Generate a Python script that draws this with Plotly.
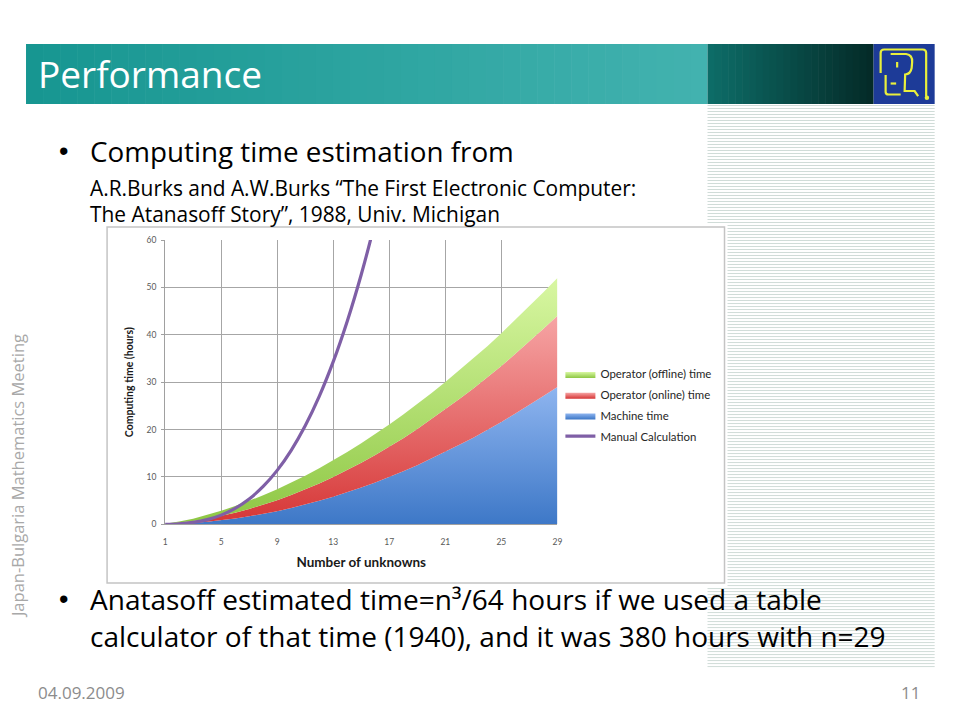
import plotly.graph_objects as go

# ---------------- data ----------------
n_unknowns = list(range(1, 30))
machine_time = [0.03, 0.14, 0.31, 0.55, 0.86, 1.24, 1.69, 2.21, 2.79, 3.45,
                4.17, 4.97, 5.83, 6.76, 7.76, 8.83, 9.97, 11.2, 12.5, 13.9,
                15.3, 16.8, 18.3, 19.9, 21.6, 23.4, 25.2, 27.1, 29.0]
online_time = [0.07, 0.21, 0.40, 0.63, 0.90, 1.21, 1.55, 1.91, 2.30, 2.73,
               3.18, 3.66, 4.16, 4.69, 5.23, 5.79, 6.38, 6.99, 7.62, 8.28,
               8.95, 9.65, 10.36, 11.09, 11.83, 12.60, 13.38, 14.19, 15.0]
offline_time = [0.05, 0.25, 0.5, 0.8, 1.1, 1.4, 1.7, 2.0, 2.3, 2.6,
                2.9, 3.2, 3.5, 3.8, 4.1, 4.4, 4.7, 5.0, 5.25, 5.5,
                5.8, 6.05, 6.35, 6.6, 6.9, 7.2, 7.45, 7.7, 8.0]
manual_calc = [0.02, 0.13, 0.42, 1.0, 1.95, 3.38, 5.36, 8.0, 11.39, 15.63,
               20.8, 27.0, 34.33, 42.88, 52.73, 64.0, 76.77, 91.13, 107.17, 125.0,
               144.7, 166.4, 190.1, 216.0, 244.1, 274.6, 307.5, 343.0, 381.1]
x_tick_vals = [1, 5, 9, 13, 17, 21, 25, 29]
y_tick_vals = [0, 10, 20, 30, 40, 50, 60]

W, H = 960, 720
FONT = "Open Sans"
CHART_FONT = "Lato"

# small correction for the way the page is photographed
SX, OX = 0.992, 2.0
SY, OY = 0.986, 4.0


def fx(x):
    return ((x - OX) / SX) / W


def fy(y):
    return 1 - ((y - OY) / SY) / H


def path_px(cmds):
    out = []
    for c, nums in cmds:
        pts = [f"{fx(nums[i]):.5f},{fy(nums[i + 1]):.5f}" for i in range(0, len(nums), 2)]
        out.append(c + " ".join(pts))
    return " ".join(out)


def lerp_col(c1, c2, t):
    return "rgb(%d,%d,%d)" % tuple(round(a + (b - a) * t) for a, b in zip(c1, c2))


fig = go.Figure()

fig.add_trace(go.Scatter(
    x=n_unknowns, y=machine_time, name="Machine time", mode="lines",
    line=dict(width=0), stackgroup="t", legendrank=3, legendgroup="g3",
    fillgradient=dict(type="vertical", start=0, stop=30,
                      colorscale=[[0, "#3b76c6"], [1, "#90b6f0"]])))
fig.add_trace(go.Scatter(
    x=n_unknowns, y=online_time, name="Operator (online) time", mode="lines",
    line=dict(width=0), stackgroup="t", legendrank=2, legendgroup="g2",
    fillgradient=dict(type="vertical", start=0, stop=44,
                      colorscale=[[0, "#d53434"], [1, "#f6a4a4"]])))
fig.add_trace(go.Scatter(
    x=n_unknowns, y=offline_time, name="Operator (offline) time", mode="lines",
    line=dict(width=0), stackgroup="t", legendrank=1, legendgroup="g1",
    fillgradient=dict(type="vertical", start=0, stop=52,
                      colorscale=[[0, "#8cc642"], [1, "#d8f7a2"]])))
fig.add_trace(go.Scatter(
    x=n_unknowns, y=manual_calc, name="Manual Calculation", mode="lines",
    line=dict(color="#7f5fa6", width=3.2, shape="spline"), legendrank=4, legendgroup="g4"))

shapes = []
# header teal gradient bar
N1 = 40
x0, x1 = 26, 707
for i in range(N1):
    a = x0 + (x1 - x0) * i / N1
    b = x0 + (x1 - x0) * (i + 1) / N1 + 0.6
    shapes.append(dict(type="rect", xref="paper", yref="paper", layer="below",
                       x0=fx(a), x1=fx(min(b, x1)), y0=fy(103), y1=fy(43),
                       fillcolor=lerp_col((0x17, 0x96, 0x91), (0x42, 0xb2, 0xaf), i / (N1 - 1)),
                       line=dict(width=0)))
# header dark part
N2 = 24
x0, x1 = 707, 873
for i in range(N2):
    a = x0 + (x1 - x0) * i / N2
    b = x0 + (x1 - x0) * (i + 1) / N2 + 0.6
    shapes.append(dict(type="rect", xref="paper", yref="paper", layer="below",
                       x0=fx(a), x1=fx(min(b, x1)), y0=fy(103), y1=fy(43),
                       fillcolor=lerp_col((0x0d, 0x6c, 0x67), (0x04, 0x2b, 0x28), i / (N2 - 1)),
                       line=dict(width=0)))
# logo
shapes.append(dict(type="rect", xref="paper", yref="paper", layer="below",
                   x0=fx(873), x1=fx(934), y0=fy(103), y1=fy(43),
                   fillcolor="#1d3b98", line=dict(width=0)))
YEL = "#e9ef3c"
logo_paths = [
    [("M", [880, 72]), ("L", [880, 52]), ("Q", [880, 48.5, 883.5, 48.5]),
     ("L", [922, 48.5]), ("Q", [925.5, 48.5, 925.5, 52]), ("L", [925.5, 95])],
    [("M", [890, 53]), ("L", [905.5, 53]), ("Q", [912, 54, 911.5, 61]),
     ("L", [911, 67]), ("Q", [910, 73, 904.5, 73.5]), ("L", [904, 90]),
     ("L", [914, 90]), ("L", [917.5, 95])],
    [("M", [885, 74]), ("L", [885, 91]), ("Q", [885, 93.5, 888, 93.5]), ("L", [900, 93.5])],
    [("M", [896.5, 61]), ("L", [896.5, 66.5])],
    [("M", [890, 82.5]), ("L", [895.5, 82.5])],
]
for p in logo_paths:
    shapes.append(dict(type="path", xref="paper", yref="paper", layer="below",
                       path=path_px(p), line=dict(color=YEL, width=2.2)))
shapes.append(dict(type="circle", xref="paper", yref="paper", layer="below",
                   x0=fx(924), x1=fx(928.5), y0=fy(99), y1=fy(94.5),
                   fillcolor=YEL, line=dict(width=0)))
# striped side panel
stripe_cmds = []
y = 104.5
while y < 668:
    stripe_cmds += [("M", [707, y]), ("L", [934, y])]
    y += 3
shapes.append(dict(type="path", xref="paper", yref="paper", layer="below",
                   path=path_px(stripe_cmds), line=dict(color="#d0dcd8", width=1)))
# chart image frame
shapes.append(dict(type="rect", xref="paper", yref="paper", layer="below",
                   x0=fx(100), x1=fx(727), y0=fy(586), y1=fy(222),
                   fillcolor="white", line=dict(width=0)))
shapes.append(dict(type="rect", xref="paper", yref="paper", layer="below",
                   x0=fx(107), x1=fx(724), y0=fy(582), y1=fy(226),
                   fillcolor="white", line=dict(color="#c4c4c4", width=1.5)))

annotations = []


def txt(text, x, y, size, color="#000000", xanchor="left", angle=0, family=FONT):
    annotations.append(dict(text=text, x=fx(x), y=fy(y), xref="paper", yref="paper",
                            xanchor=xanchor, yanchor="middle", showarrow=False,
                            textangle=angle, font=dict(family=family, size=size, color=color)))


BULLET_FONT = "Liberation Sans"
txt("Performance", 36, 72, 37, "#ffffff")
txt("•", 63, 150, 27, xanchor="center", family=BULLET_FONT)
txt("Computing time estimation from", 87.5, 149.5, 27.8)
txt("A.R.Burks and A.W.Burks \u201cThe First Electronic Computer:", 87.5, 186.5, 20.9)
txt("The Atanasoff Story\u201d, 1988, Univ. Michigan", 87.5, 212.5, 20.9)
txt("•", 63, 598, 27, xanchor="center", family=BULLET_FONT)
txt("Anatasoff estimated time=n\u00b3/64 hours if we used a table", 87.5, 598, 28)
txt("calculator of that time (1940), and it was 380 hours with n=29", 87.5, 635, 28)
txt("Japan-Bulgaria Mathematics Meeting", 17, 475, 16.5, "#a8a8a8", xanchor="center", angle=-90)
txt("04.09.2009", 36, 691, 17, "#8c8c8c")
txt("11", 921, 691, 17, "#8c8c8c", xanchor="right")

axis_common = dict(showgrid=True, gridcolor="#a6a6a6", gridwidth=1, zeroline=False,
                   showline=True, linecolor="#a0a0a0", linewidth=1,
                   tickfont=dict(family=CHART_FONT, size=8.5, color="#595959"))

fig.update_layout(
    width=W, height=H, margin=dict(l=0, r=0, t=0, b=0),
    paper_bgcolor="white", plot_bgcolor="rgba(0,0,0,0)",
    shapes=shapes, annotations=annotations,
    xaxis=dict(domain=[fx(165), fx(557)], range=[1, 29], tickvals=x_tick_vals,
               ticks="", ticklabelstandoff=9,
               title=dict(text="Number of unknowns", standoff=11,
                          font=dict(family=CHART_FONT, size=13.5, color="#1a1a1a", weight="bold")),
               **axis_common),
    yaxis=dict(domain=[fy(523.3), fy(239)], range=[0, 60], tickvals=y_tick_vals,
               ticks="outside", ticklen=3, tickcolor="#a0a0a0", ticklabelstandoff=3,
               title=dict(text="Computing time (hours)", standoff=10,
                          font=dict(family=CHART_FONT, size=10.5, color="#1a1a1a", weight="bold")),
               **axis_common),
    showlegend=True,
    legend=dict(x=fx(560), y=fy(358.5), xanchor="left", yanchor="top",
                traceorder="grouped", tracegroupgap=1.7, bgcolor="rgba(0,0,0,0)",
                font=dict(family=CHART_FONT, size=11.4, color="#262626"),
                itemwidth=30),
)

fig.write_html(
    "out.html",
    config={"displayModeBar": False},
    post_script=(
        "var d=document.getElementById('{plot_id}');"
        "d.style.position='fixed';d.style.left='0px';d.style.top='0px';"
        "document.documentElement.style.margin='0px';"
        "document.documentElement.style.overflow='hidden';"
        "document.body.style.margin='0px';"
        "document.body.style.overflow='hidden';"
    ),
)
